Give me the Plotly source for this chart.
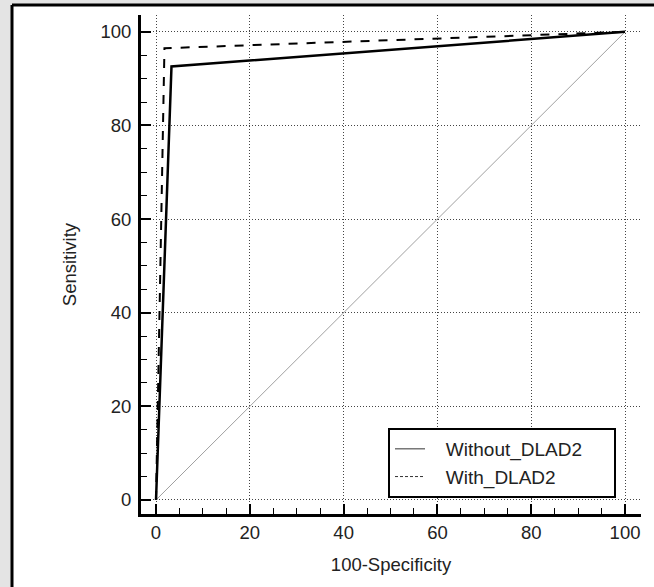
import plotly.graph_objects as go

# Data
fpr_without = [0, 3.3, 100]
sens_without = [0, 92.6, 100]
fpr_with = [0, 1.8, 100]
sens_with = [0, 96.5, 100]
diag_x = [0, 100]
diag_y = [0, 100]
tick_vals = [0, 20, 40, 60, 80, 100]
tick_text = ["0", "20", "40", "60", "80", "100"]
legend_names = ["Without_DLAD2", "With_DLAD2"]

W, H = 654, 587
L, R, T, B = 141, 13, 15, 73
pw, ph = W - L - R, H - T - B

fig = go.Figure()
fig.add_trace(go.Scatter(x=diag_x, y=diag_y, mode="lines",
                         line=dict(color="#a0a0a0", width=1),
                         showlegend=False, hoverinfo="skip"))
fig.add_trace(go.Scatter(x=fpr_without, y=sens_without, mode="lines",
                         name=legend_names[0], showlegend=False,
                         line=dict(color="black", width=2.5)))
fig.add_trace(go.Scatter(x=fpr_with, y=sens_with, mode="lines",
                         name=legend_names[1], showlegend=False,
                         line=dict(color="black", width=2, dash="dash")))
# legend entries (thin sample lines as in the reference)
lead = "&nbsp;" * 3
pad = "&nbsp;" * 5
fig.add_trace(go.Scatter(x=[None], y=[None], mode="lines",
                         name=lead + legend_names[0] + pad,
                         line=dict(color="#333333", width=1)))
fig.add_trace(go.Scatter(x=[None], y=[None], mode="lines",
                         name=lead + legend_names[1] + pad,
                         line=dict(color="#333333", width=1, dash="3px,2px")))

font_family = "Liberation Sans, Arial, sans-serif"
axis_common = dict(
    showline=True, linewidth=3, linecolor="black", mirror=False,
    showgrid=True, gridcolor="#444444", gridwidth=1, griddash="1px,2px",
    zeroline=False, automargin=False,
    ticks="inside", ticklen=10, tickwidth=1.5, tickcolor="black",
    tickmode="array", tickvals=tick_vals, ticktext=tick_text,
    tickfont=dict(family=font_family, size=18.5, color="#222222"),
    minor=dict(dtick=5, ticks="inside", ticklen=6, tickwidth=1.2,
               tickcolor="black", showgrid=False),
)

# white panel with black frame on a grey page (frame runs off right/bottom)
px = lambda p: (p - L) / pw
py = lambda p: (H - B - p) / ph
shapes = [
    dict(type="rect", xref="paper", yref="paper",
         x0=px(-20), x1=px(12), y0=py(H + 20), y1=py(-20),
         fillcolor="#e4e4e4", line=dict(width=0), layer="below"),
    dict(type="rect", xref="paper", yref="paper",
         x0=px(-20), x1=px(W + 20), y0=py(5), y1=py(-20),
         fillcolor="#e4e4e4", line=dict(width=0), layer="below"),
    dict(type="line", xref="paper", yref="paper",
         x0=px(12), x1=px(12), y0=py(H + 20), y1=py(5),
         line=dict(color="black", width=3), layer="below"),
    dict(type="line", xref="paper", yref="paper",
         x0=px(12), x1=px(W + 20), y0=py(5), y1=py(5),
         line=dict(color="black", width=3), layer="below"),
]

fig.update_layout(
    width=W, height=H,
    margin=dict(l=L, r=R, t=T, b=B, pad=0),
    paper_bgcolor="white",
    plot_bgcolor="white",
    font=dict(family=font_family, size=18.5, color="#222222"),
    xaxis=dict(range=[-3.2, 103.4],
               title=dict(text="100-Specificity", standoff=16,
                          font=dict(family=font_family, size=18.5, color="#222222")),
               **axis_common),
    yaxis=dict(range=[-3.0, 103.6], ticklabelstandoff=3,
               title=dict(text="Sensitivity", standoff=19,
                          font=dict(family=font_family, size=18.5, color="#222222")),
               **axis_common),
    legend=dict(x=(388 - L) / pw, y=(514 - 428) / ph,
                xanchor="left", yanchor="top",
                bgcolor="white", bordercolor="black", borderwidth=2,
                font=dict(family=font_family, size=19, color="#222222"),
                tracegroupgap=0),
    shapes=shapes,
)

fig.write_html("out.html",
               config={"displayModeBar": False},
               post_script=("document.body.style.margin='0';"
                            "document.body.style.padding='0';"
                            "document.body.style.overflow='hidden';"
                            "document.documentElement.style.overflow='hidden';"))
